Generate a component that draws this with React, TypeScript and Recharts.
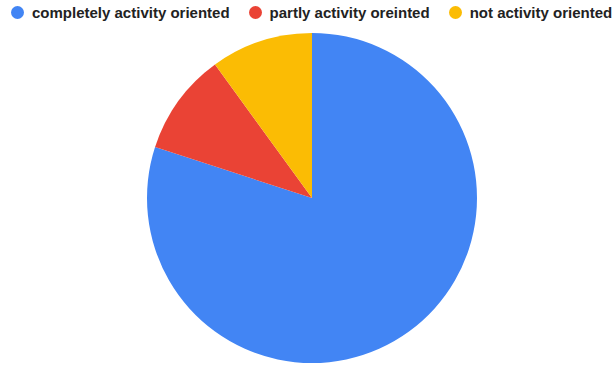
import React from "react";
import { PieChart, Pie, Cell } from "recharts";

const categories = ["completely activity oriented", "partly activity oreinted", "not activity oriented"];
const values = [80, 10, 10];
const colors = ["#4285f4", "#ea4335", "#fbbc04"];

const data = categories.map((name, i) => ({ name, value: values[i] }));

export default function App() {
  return (
    <div style={{ position: "absolute", left: 0, top: 0, width: 613, height: 368, background: "#fff", overflow: "hidden" }}>
      <div
        style={{
          position: "absolute",
          left: 11,
          top: 4,
          display: "flex",
          alignItems: "center",
          fontFamily: "'Liberation Sans', Arial, sans-serif",
          fontSize: 15,
          fontWeight: "bold",
          color: "#222",
          whiteSpace: "nowrap",
        }}
      >
        {categories.map((c, i) => (
          <div key={c} style={{ display: "flex", alignItems: "center", marginLeft: i === 0 ? 0 : 19 }}>
            <span style={{ display: "inline-block", width: 13, height: 13, borderRadius: 7, background: colors[i], marginRight: 8 }} />
            <span>{c}</span>
          </div>
        ))}
      </div>
      <div style={{ position: "absolute", left: 0, top: 0 }}>
        <PieChart width={613} height={368} margin={{ top: 0, right: 0, bottom: 0, left: 0 }}>
          <Pie
            data={data}
            dataKey="value"
            nameKey="name"
            cx={312}
            cy={198}
            outerRadius={165}
            startAngle={90}
            endAngle={-270}
            stroke="none"
            isAnimationActive={false}
          >
            {data.map((d, i) => (
              <Cell key={i} fill={colors[i]} />
            ))}
          </Pie>
        </PieChart>
      </div>
    </div>
  );
}
